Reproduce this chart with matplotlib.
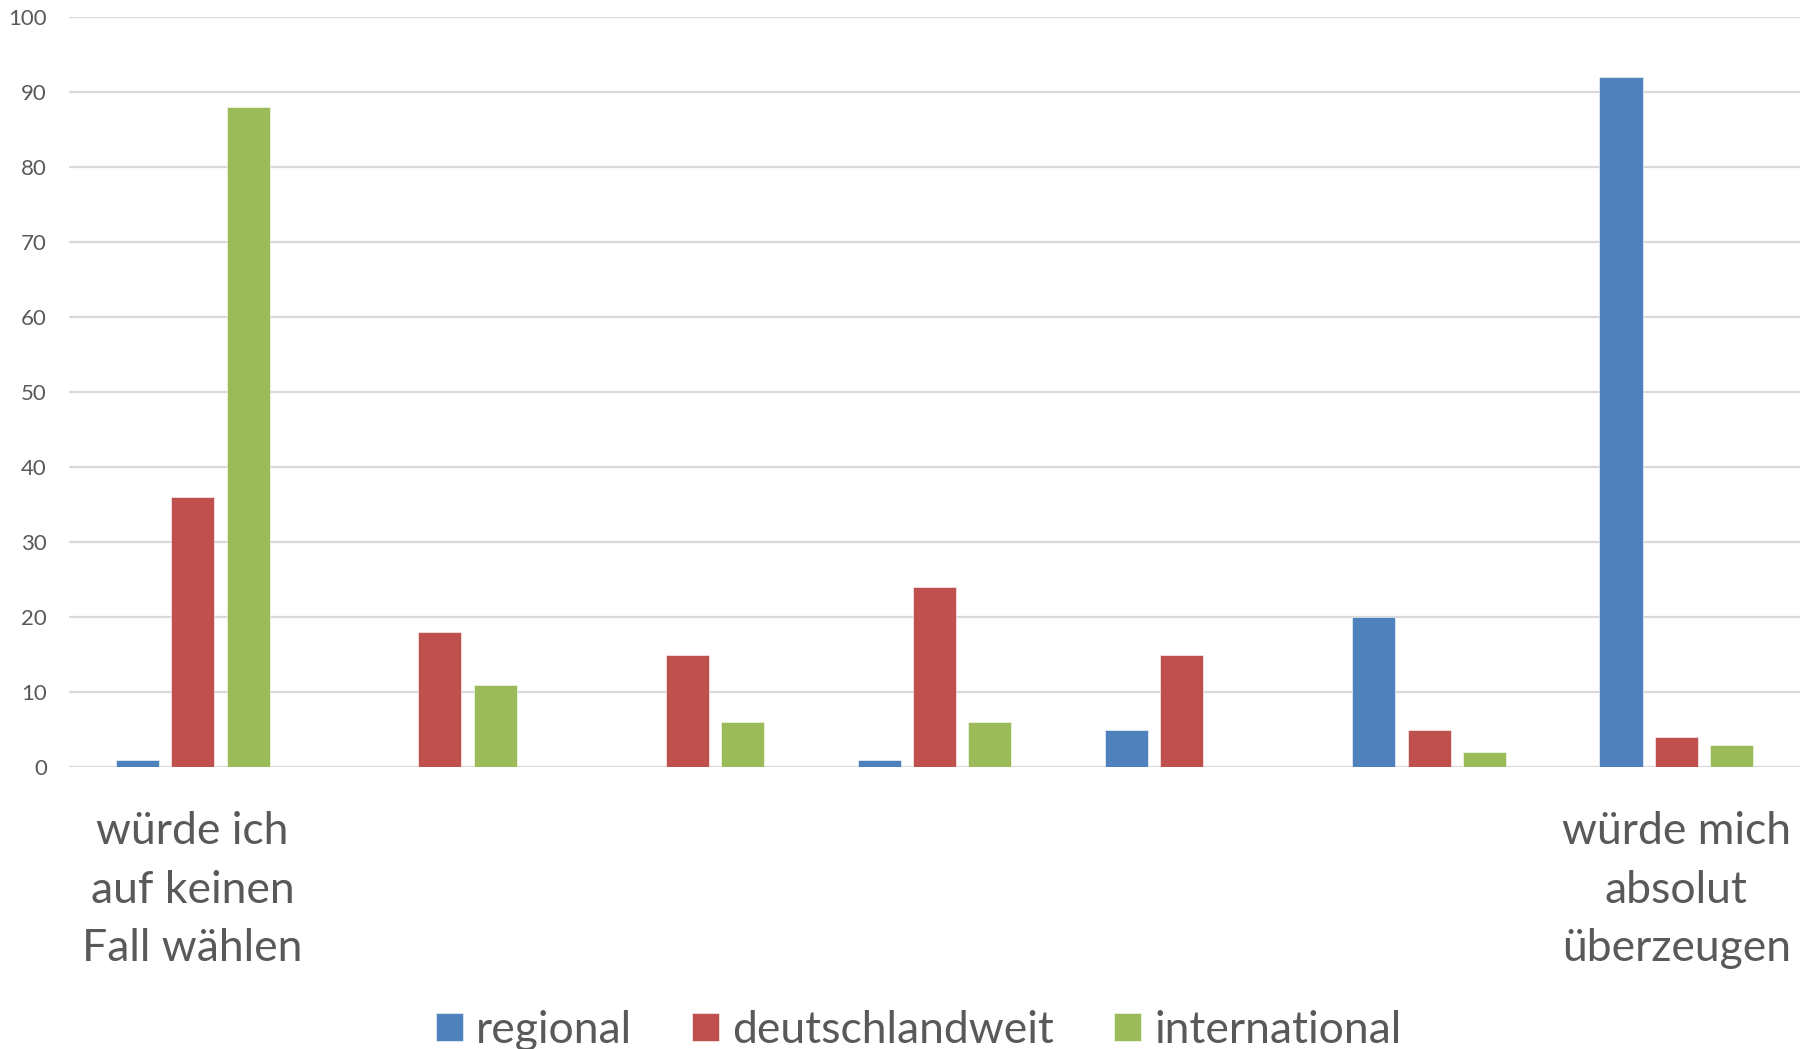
import numpy as np
import matplotlib
matplotlib.use("Agg")
import matplotlib.pyplot as plt

plt.rcParams['font.family'] = ['Lato', 'DejaVu Sans']

# Seven answer steps, only the two ends carry a label
categories = [
    "würde ich\nauf keinen\nFall wählen",
    "", "", "", "", "",
    "würde mich\nabsolut\nüberzeugen",
]
series_names = ["regional", "deutschlandweit", "international"]
regional = [1, 0, 0, 1, 5, 20, 92]
deutschlandweit = [36, 18, 15, 24, 15, 5, 4]
international = [88, 11, 6, 6, 0, 2, 3]
yticks = [0, 10, 20, 30, 40, 50, 60, 70, 80, 90, 100]

colors = ["#4F81BD", "#C0504D", "#9BBB59"]
text_color = "#595959"
grid_color = "#D9D9D9"

fig = plt.figure(figsize=(18.12, 10.49), dpi=100)
ax = fig.add_axes([0.0381, 0.2688, 0.9553, 0.7150])

x = np.arange(len(categories))
bar_w = 0.174
step = 0.224
for i, (vals, name, col) in enumerate(zip([regional, deutschlandweit, international],
                                          series_names, colors)):
    ax.bar(x + (i - 1) * step, vals, width=bar_w, color=col, label=name,
           zorder=3, edgecolor="white", linewidth=0.4)

ax.set_xlim(-0.5, len(categories) - 0.5)
ax.set_ylim(0, 100)
ax.set_yticks(yticks)
ax.set_yticklabels([str(v) for v in yticks], fontsize=16, color=text_color)
ax.set_xticks(x)
ax.set_xticklabels(categories, fontsize=32, color=text_color, linespacing=1.53)
ax.tick_params(axis='y', length=0, pad=16)
ax.tick_params(axis='x', length=0, pad=32)
ax.yaxis.grid(True, color=grid_color, linewidth=1.6, zorder=0)
for s in ax.spines.values():
    s.set_visible(False)

fig.legend(loc='lower center', bbox_to_anchor=(0.507, -0.04), ncol=3,
           frameon=False, fontsize=32, labelcolor=text_color,
           handlelength=0.6, handleheight=0.6, handletextpad=0.3,
           columnspacing=1.35)

fig.savefig("out.png", dpi=100)
